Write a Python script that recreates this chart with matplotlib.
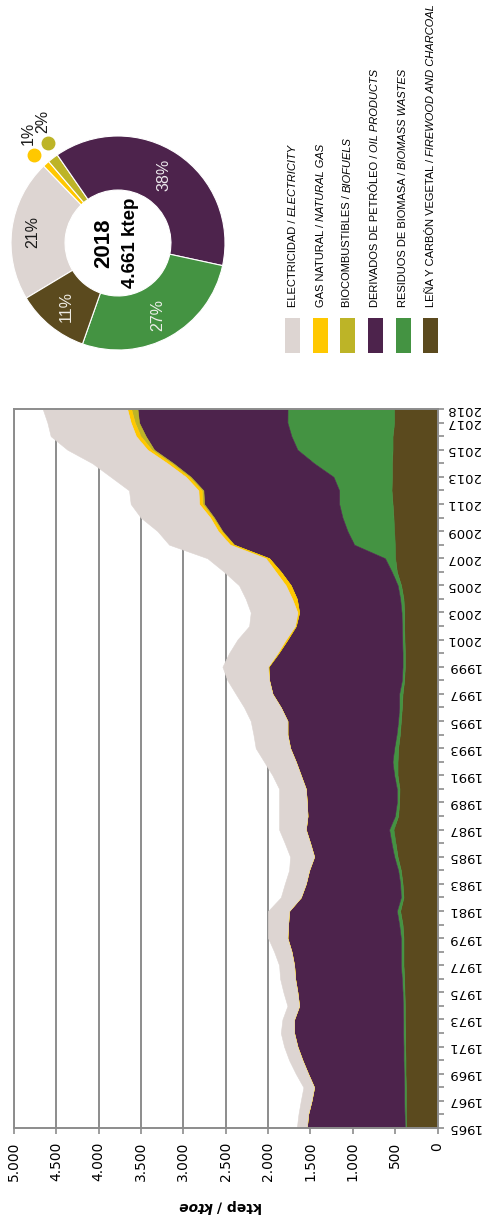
import numpy as np
import matplotlib.pyplot as plt
from matplotlib.patches import Rectangle
from matplotlib.ticker import FuncFormatter, MultipleLocator

# consumo final por fuente, ktep
years = list(range(1965, 2019))
firewood = [370, 374, 374, 374, 378, 378, 382, 382, 386, 386, 390, 394, 402, 402,
            402, 413, 441, 402, 413, 433, 472, 496, 520, 465, 453, 449, 472, 472,
            465, 445, 433, 421, 413, 394, 386, 386, 390, 394, 394, 402, 430, 480,
            500, 504, 512, 520, 531, 543, 539, 539, 531, 531, 512, 513]
biomass = [16, 16, 20, 20, 20, 24, 20, 24, 20, 23, 23, 27, 31, 31,
           31, 40, 39, 31, 28, 32, 40, 47, 51, 39, 27, 31, 40, 59,
           47, 39, 32, 32, 40, 27, 27, 27, 27, 27, 31, 39, 40, 60,
           120, 480, 551, 602, 630, 618, 689, 918, 1123, 1194, 1260, 1258]
oil = [1157, 1138, 1094, 1063, 1130, 1193, 1252, 1287, 1287, 1225, 1241, 1260, 1260, 1291,
       1339, 1311, 1272, 1181, 1114, 1051, 945, 961, 984, 1031, 1063, 1075, 1102, 1142,
       1228, 1288, 1307, 1397, 1496, 1567, 1583, 1465, 1355, 1252, 1209, 1220, 1262, 1310,
       1368, 1418, 1476, 1516, 1595, 1603, 1685, 1661, 1692, 1720, 1752, 1771]
biofuels = [0] * 43 + [5, 12, 15, 20, 20, 20, 25, 30, 60, 50, 75]
natural_gas = [0] * 34 + [5, 12, 20, 10, 20, 55, 60, 60,
                          40, 42, 40, 32, 39, 39, 39, 46, 49, 55, 48, 47]
electricity = [118, 114, 126, 126, 145, 157, 157, 157, 138, 138, 165, 177, 177, 205,
               228, 236, 248, 236, 248, 236, 283, 299, 315, 335, 327, 315, 335, 374,
               406, 401, 433, 433, 433, 492, 538, 571, 570, 541, 551, 548, 551, 610,
               689, 720, 716, 819, 807, 819, 886, 886, 945, 1007, 984, 997]

labels_es = ["ELECTRICIDAD", "GAS NATURAL", "BIOCOMBUSTIBLES",
             "DERIVADOS DE PETRÓLEO", "RESIDUOS DE BIOMASA", "LEÑA Y CARBÓN VEGETAL"]
labels_en = ["ELECTRICITY", "NATURAL GAS", "BIOFUELS",
             "OIL PRODUCTS", "BIOMASS WASTES", "FIREWOOD AND CHARCOAL"]
colors = ["#ddd5d2", "#ffc800", "#bdb427", "#4d234c", "#449342", "#5b4a1e"]

GRID = "#8c8c8c"
W, H = 488, 1218

fig = plt.figure(figsize=(W / 100, H / 100), dpi=100)

# --- stacked area, drawn sideways (years upward, ktep to the left) ---
ax = fig.add_axes([14 / W, 1 - 1128 / H, (437.5 - 14) / W, (1128 - 409) / H])
ax.set_xlim(5000, 0)
ax.set_ylim(1965, 2018)
ax.xaxis.set_major_locator(MultipleLocator(500))
ax.xaxis.set_major_formatter(FuncFormatter(lambda v, p: f"{int(v):,}".replace(",", ".")))
ax.grid(axis="x", color=GRID, lw=1.4)
ax.set_axisbelow(True)

stack_order = [firewood, biomass, oil, biofuels, natural_gas, electricity]
stack_colors = colors[::-1]
base = np.zeros(len(years))
for vals, col in zip(stack_order, stack_colors):
    top = base + np.array(vals)
    ax.fill_betweenx(years, base, top, color=col, lw=0.4, edgecolor=col)
    base = top

for sp in ax.spines.values():
    sp.set_color(GRID)
    sp.set_linewidth(1.4)

ax.yaxis.tick_right()
ax.set_yticks(years)
ax.set_yticklabels([str(y) if (y - 1965) % 2 == 0 or y == 2018 else "" for y in years])
ax.tick_params(axis="y", length=4, width=1.2, color=GRID, pad=2.5,
               labelsize=9.5, labelrotation=180)
for lbl in ax.get_yticklabels():
    lbl.set_verticalalignment("center")
ax.tick_params(axis="x", length=4, width=1.2, color=GRID, pad=6,
               labelsize=10, labelrotation=90)

fig.canvas.draw()
renderer = fig.canvas.get_renderer()

# axis title: "ktep / ktoe" upside down
t = fig.text(262 / W, 1 - 1206 / H, "ktep /", rotation=180, ha="right", va="center",
             fontsize=10, fontweight="bold")
x0 = t.get_window_extent(renderer).x0
fig.text((x0 - 4) / W, 1 - 1206 / H, "ktoe", rotation=180, ha="right", va="center",
         fontsize=10, fontweight="bold", style="italic")

# --- 2018 donut ---
vals18 = [electricity[-1], natural_gas[-1], biofuels[-1], oil[-1], biomass[-1], firewood[-1]]
total = sum(vals18)
R = 107
ax2 = fig.add_axes([(118 - 1.1 * R) / W, 1 - (243 + 1.1 * R) / H, 2.2 * R / W, 2.2 * R / H])
wedges, _ = ax2.pie(vals18, colors=colors, startangle=211, counterclock=False, radius=1,
                    wedgeprops=dict(width=0.505, edgecolor="white", linewidth=0.8))
ax2.set_xlim(-1.1, 1.1)
ax2.set_ylim(-1.1, 1.1)
ax2.set_aspect("equal")

PFONT = ["Liberation Sans", "DejaVu Sans"]
pct_colors = ["#1a1a1a", None, None, "#ece8ec", "#eef0ec", "#efece4"]
dot_angles = {1: 133.5, 2: 125.0}
for i, (w, v) in enumerate(zip(wedges, vals18)):
    pct = f"{round(v / total * 100)}%"
    mid = np.deg2rad((w.theta1 + w.theta2) / 2)
    if i in dot_angles:
        a = np.deg2rad(dot_angles[i])
        dx, dy = 1.14 * np.cos(a), 1.14 * np.sin(a)
        ax2.plot(dx, dy, "o", ms=9, color=colors[i], clip_on=False)
        ax2.text(dx - 0.05, dy + 0.2, pct, rotation=90, ha="center", va="center",
                 fontsize=11.5, family=PFONT, color="#1a1a1a", clip_on=False)
    else:
        r = 0.8 if i == 0 else 0.77
        ax2.text(r * np.cos(mid), r * np.sin(mid), pct, rotation=90, ha="center",
                 va="center", fontsize=11.5, family=PFONT, color=pct_colors[i])

ax2.text(-0.13, 0, "2018", rotation=90, ha="center", va="center", fontsize=16,
         fontweight="bold", family=PFONT)
ax2.text(0.115, 0, f"{total:,} ktep".replace(",", "."), rotation=90, ha="center",
         va="center", fontsize=13.5, fontweight="bold", family=PFONT)

# --- legend ---
LFONT = ["Liberation Sans", "DejaVu Sans"]
legend_x = [292.5, 320.5, 347.5, 375.5, 403.5, 430.5]
LEG_BOTTOM = 307   # pixels from the top of the figure
LEG_TOP = 4


def legend_entry(xc, es, en, size):
    t1 = fig.text(xc / W, 1 - LEG_BOTTOM / H, es + " /", rotation=90, ha="center",
                  va="bottom", fontsize=size, family=LFONT)
    top = t1.get_window_extent(renderer).y1
    t2 = fig.text(xc / W, (top + 3) / H, en, rotation=90, ha="center", va="bottom",
                  fontsize=size, family=LFONT, style="italic")
    return t1, t2


# size the labels so the longest one fits in the column above the swatches
probe = legend_entry(legend_x[-1], labels_es[-1], labels_en[-1], 10)
span = probe[1].get_window_extent(renderer).y1 - probe[0].get_window_extent(renderer).y0
for tt in probe:
    tt.remove()
leg_size = 10 * (LEG_BOTTOM - LEG_TOP) / span

for xc, es, en, col in zip(legend_x, labels_es, labels_en, colors):
    fig.add_artist(Rectangle(((xc - 7.5) / W, 1 - 353 / H), 15 / W, 35 / H,
                             transform=fig.transFigure, color=col, lw=0))
    legend_entry(xc, es, en, leg_size)

fig.savefig("out.png", dpi=100, facecolor="white")
